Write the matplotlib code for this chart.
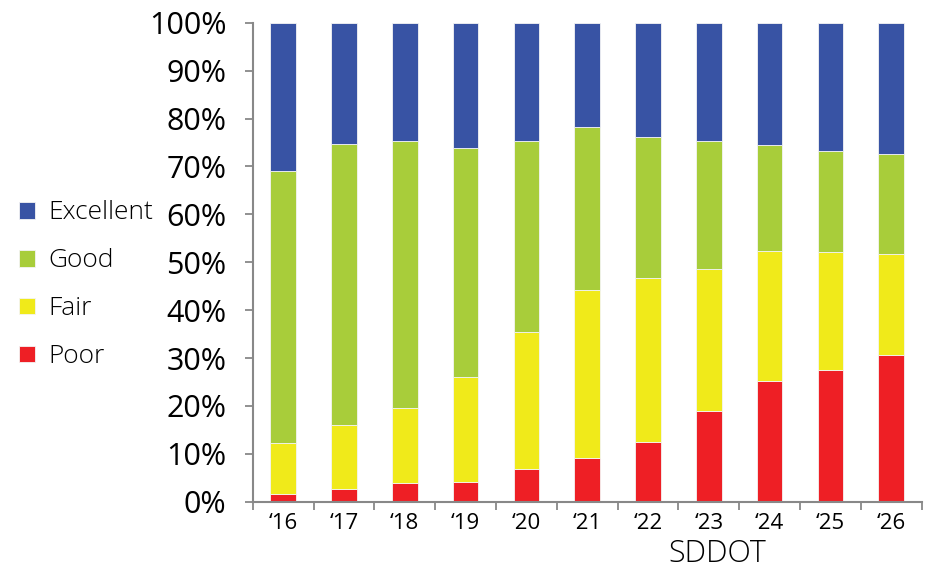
import matplotlib.pyplot as plt
import numpy as np

years = ["‘16", "‘17", "‘18", "‘19", "‘20", "‘21", "‘22", "‘23", "‘24", "‘25", "‘26"]
poor = [1.6, 2.7, 4.0, 4.2, 6.9, 9.1, 12.5, 19.0, 25.1, 27.4, 30.6]
fair = [10.7, 13.3, 15.6, 21.8, 28.5, 35.1, 34.1, 29.6, 27.2, 24.7, 21.1]
good = [56.7, 58.7, 55.8, 47.8, 40.0, 34.1, 29.6, 26.7, 22.2, 21.1, 20.8]
excellent = [31.0, 25.3, 24.6, 26.2, 24.6, 21.7, 23.8, 24.7, 25.5, 26.8, 27.5]

colors = {"Poor": "#ee1f25", "Fair": "#f0ea1a", "Good": "#a8cd3a", "Excellent": "#3853a4"}

plt.rcParams['font.family'] = ['Open Sans', 'DejaVu Sans']

fig = plt.figure(figsize=(9.34, 5.72), dpi=100)
ax = fig.add_axes([0.2706, 0.1229, 0.7162, 0.8374])

x = np.arange(len(years))
bottom = np.zeros(len(years))
bars = {}
for name, vals in [("Poor", poor), ("Fair", fair), ("Good", good), ("Excellent", excellent)]:
    bars[name] = ax.bar(x, vals, width=0.42, bottom=bottom, color=colors[name],
                        edgecolor="#f4f4f4", linewidth=0.6)
    bottom += np.array(vals)

ax.set_xlim(-0.5, len(years) - 0.5)
ax.set_ylim(0, 100)
ax.set_yticks(np.arange(0, 101, 10))
ax.set_yticklabels([f"{v}%" for v in range(0, 101, 10)], fontsize=22)
ax.set_xticks(x)
ax.set_xticklabels(years, fontsize=16)
ax.set_xticks(np.arange(-0.5, len(years), 1), minor=True)
ax.tick_params(axis='x', which='major', length=0, pad=8)
ax.tick_params(axis='x', which='minor', length=6, color='#888888', width=1.3)
ax.tick_params(axis='y', length=6, color='#888888', width=1.3, pad=13)

for s in ['top', 'right']:
    ax.spines[s].set_visible(False)
for s in ['left', 'bottom']:
    ax.spines[s].set_color('#888888')
    ax.spines[s].set_linewidth(1.5)

ax.set_xlabel("SDDOT", fontsize=22, fontweight='light', labelpad=3, x=0.695)

order = ["Excellent", "Good", "Fair", "Poor"]
fig.legend([bars[n] for n in order], order, loc='upper left',
           bbox_to_anchor=(-0.005, 0.691), frameon=False,
           handlelength=0.6, handleheight=0.6, handletextpad=0.5,
           labelspacing=0.87, prop={'size': 19, 'weight': 'light'})

fig.savefig("out.png", dpi=100)
